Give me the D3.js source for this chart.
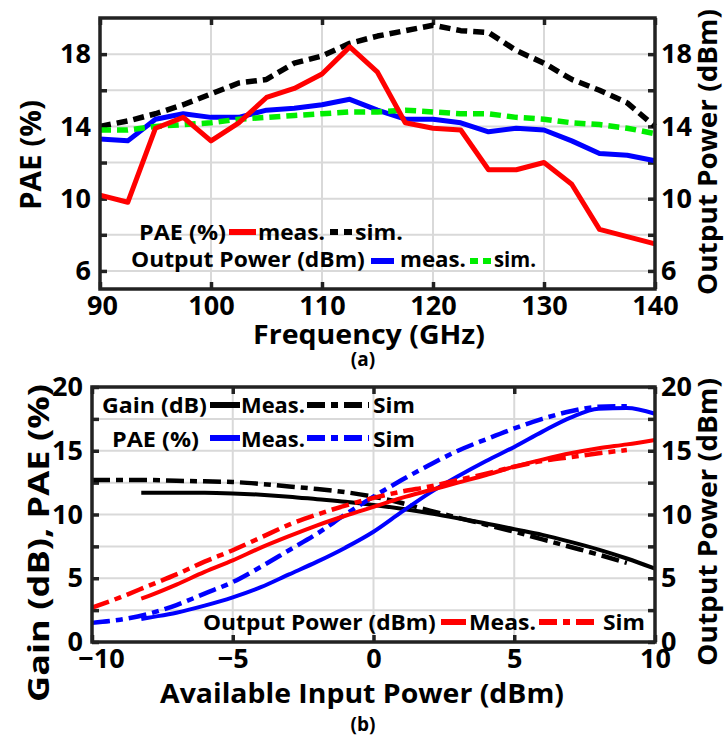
<!DOCTYPE html>
<html>
<head>
<meta charset="utf-8">
<script src="https://cdn.jsdelivr.net/npm/d3@7"></script>
<style>
  body { margin: 0; background: #fff; }
  svg text { font-family: "Open Sans", "Noto Sans", sans-serif; font-weight: 700; fill: #000; }
</style>
</head>
<body>
<svg id="chart" width="726" height="737"></svg>
<script>
// (a) PAE / output power vs frequency
const freqGHz   = [90, 92.5, 95, 97.5, 100, 102.5, 105, 107.5, 110, 112.5, 115, 117.5, 120, 122.5, 125, 127.5, 130, 132.5, 135, 137.5, 140];
const paeMeasA  = [10.2, 9.8, 13.9, 14.5, 13.2, 14.2, 15.6, 16.1, 16.9, 18.4, 17.0, 14.2, 13.9, 13.8, 11.6, 11.6, 12.0, 10.8, 8.3, 7.9, 7.5];
const paeSimA   = [14.0, 14.3, 14.7, 15.2, 15.8, 16.4, 16.6, 17.5, 17.9, 18.6, 19.0, 19.3, 19.6, 19.3, 19.2, 18.2, 17.5, 16.6, 16.0, 15.3, 14.0];
const poutMeasA = [13.3, 13.2, 14.4, 14.7, 14.5, 14.5, 14.9, 15.0, 15.2, 15.5, 14.9, 14.4, 14.4, 14.2, 13.7, 13.9, 13.8, 13.2, 12.5, 12.4, 12.1];
const poutSimA  = [13.8, 13.8, 14.0, 14.1, 14.2, 14.4, 14.5, 14.6, 14.7, 14.8, 14.8, 14.9, 14.8, 14.7, 14.7, 14.5, 14.4, 14.2, 14.1, 13.9, 13.6];
const freqTicks = [90, 100, 110, 120, 130, 140];
const paeTicksA = [6, 8, 10, 12, 14, 16, 18];
const paeLabelsA = [6, 10, 14, 18];

// (b) gain / PAE / output power vs available input power
const pinMeas   = [-8.25, -8, -7, -6, -5, -4, -3, -2, -1, 0, 1, 2, 3, 4, 5, 6, 7, 8, 9, 10];
const gainMeas  = [11.7, 11.7, 11.7, 11.7, 11.65, 11.55, 11.4, 11.2, 11.0, 10.75, 10.45, 10.1, 9.7, 9.3, 8.85, 8.4, 7.85, 7.25, 6.55, 5.75];
const paeMeasB  = [1.8, 1.9, 2.3, 2.85, 3.5, 4.3, 5.3, 6.3, 7.4, 8.65, 10.2, 11.7, 13.0, 14.2, 15.3, 16.5, 17.6, 18.3, 18.35, 17.9];
const poutMeasB = [3.4, 3.6, 4.5, 5.5, 6.4, 7.4, 8.3, 9.15, 9.9, 10.6, 11.3, 11.9, 12.5, 13.1, 13.75, 14.3, 14.8, 15.2, 15.5, 15.85];
const pinSim    = [-10, -9, -8, -7, -6, -5, -4, -3, -2, -1, 0, 1, 2, 3, 4, 5, 6, 7, 8, 9];
const gainSim   = [12.7, 12.7, 12.7, 12.65, 12.6, 12.55, 12.4, 12.2, 12.0, 11.75, 11.4, 10.9, 10.3, 9.75, 9.2, 8.65, 8.05, 7.45, 6.85, 6.2];
const paeSimB   = [1.5, 1.75, 2.2, 2.9, 3.8, 4.7, 5.9, 7.2, 8.5, 10.0, 11.4, 12.7, 13.9, 15.0, 15.9, 16.75, 17.5, 18.1, 18.45, 18.5];
const poutSimB  = [2.7, 3.5, 4.4, 5.3, 6.3, 7.2, 8.2, 9.2, 10.0, 10.7, 11.3, 11.8, 12.2, 12.7, 13.2, 13.75, 14.2, 14.5, 14.8, 15.05];
const pinTicks  = [-10, -5, 0, 5, 10];
const yTicksB   = [0, 2.5, 5, 7.5, 10, 12.5, 15, 17.5, 20];
const yLabelsB  = [0, 5, 10, 15, 20];

const RED = "#ff0000", BLUE = "#0000ff", GREEN = "#00ee00", BLACK = "#000";
const DASH_A = "11,6";
const DASHDOT = "18,6,7,6";

const svg = d3.select("#chart");

function drawFrame(x, y, xTicks, yTicks, yLabels, xGrid, yGrid, xShift) {
    let [x0, x1] = x.range();
    let [y0, y1] = y.range();
    let g = svg.append("g");

    // grid
    g.selectAll(".vg").data(xGrid).enter().append("line")
        .attr("x1", d => x(d)).attr("x2", d => x(d))
        .attr("y1", y0).attr("y2", y1)
        .attr("stroke", "#d9d9d9").attr("stroke-width", 2);
    g.selectAll(".hg").data(yGrid).enter().append("line")
        .attr("x1", x0).attr("x2", x1)
        .attr("y1", d => y(d)).attr("y2", d => y(d))
        .attr("stroke", "#d9d9d9").attr("stroke-width", 2);

    let fmtY = d => yLabels.includes(d) ? d : "";

    let axes = [
        d3.axisLeft(y).tickValues(yTicks).tickSize(-7).tickPadding(9).tickFormat(fmtY),
        d3.axisRight(y).tickValues(yTicks).tickSize(-7).tickPadding(6).tickFormat(fmtY),
        d3.axisBottom(x).tickValues(xTicks).tickSize(-7).tickPadding(7),
        d3.axisTop(x).tickValues(xTicks).tickSize(-7).tickFormat("")
    ];
    let trans = [`translate(${x0},0)`, `translate(${x1},0)`, `translate(0,${y0})`, `translate(0,${y1})`];
    axes.forEach((a, i) => {
        let ax = svg.append("g").attr("transform", trans[i]).call(a);
        ax.select(".domain").remove();
        ax.selectAll("line").attr("stroke", "#222").attr("stroke-width", 3.5);
        ax.selectAll("text").attr("font-size", 27).attr("font-family", null).attr("fill", "#000");
        if (i == 2) {
            ax.selectAll("text").attr("dx", (d, j) => j == 0 ? xShift : 0);
        }
    });
    return g;
}

function drawLine(x, y, xs, ys, color, width, dash, curve) {
    let line = d3.line()
        .x(d => x(d[0]))
        .y(d => y(d[1]))
        .curve(curve || d3.curveLinear);
    svg.append("path")
        .datum(xs.map((v, i) => [v, ys[i]]))
        .attr("d", line)
        .attr("fill", "none")
        .attr("stroke", color)
        .attr("stroke-width", width)
        .attr("stroke-dasharray", dash)
        .attr("stroke-linejoin", "round");
}

function border(x, y) {
    let [x0, x1] = x.range();
    let [y0, y1] = y.range();
    svg.append("rect")
        .attr("x", x0).attr("y", y1)
        .attr("width", x1 - x0).attr("height", y0 - y1)
        .attr("fill", "none").attr("stroke", "#222").attr("stroke-width", 3.5);
}

// text stretched (glyphs scaled along the line) to the width it has in the picture
function text(x, y, s, size, anchor, len, rot) {
    let t = svg.append("text")
        .attr("font-size", size)
        .attr("text-anchor", anchor || "start")
        .text(s);
    let sx = 1;
    if (len) sx = len / t.node().getComputedTextLength();
    let tr = `translate(${x},${y})` + (rot ? ` rotate(${rot})` : "") + ` scale(${sx},1)`;
    t.attr("transform", tr);
    if (rot) t.attr("dominant-baseline", "central");
    return t;
}

function swatch(xa, xb, yy, color, width, dash) {
    svg.append("line")
        .attr("x1", xa).attr("x2", xb).attr("y1", yy).attr("y2", yy)
        .attr("stroke", color).attr("stroke-width", width)
        .attr("stroke-dasharray", dash);
}

////////////////////////////////////////////////////////////////
// panel (a)
let xa = d3.scaleLinear().domain([90, 140]).range([100, 655]);
let ya = d3.scaleLinear().domain([5, 20]).range([289, 18]);

drawFrame(xa, ya, freqTicks, paeTicksA, paeLabelsA, [100, 110, 120, 130], paeTicksA, 2);

drawLine(xa, ya, freqGHz, paeSimA, BLACK, 5.5, DASH_A);
drawLine(xa, ya, freqGHz, poutMeasA, BLUE, 5);
drawLine(xa, ya, freqGHz, poutSimA, GREEN, 5.5, DASH_A);
drawLine(xa, ya, freqGHz, paeMeasA, RED, 5);
border(xa, ya);

// legend (a)
text(139, 240, "PAE (%)", 22, "start", 87);
swatch(229, 256, 232, RED, 6);
text(258, 240, "meas.", 22, "start", 67);
swatch(330, 352, 232, BLACK, 6, "8,6");
text(355, 240, "sim.", 22, "start", 48);
text(131, 267, "Output Power (dBm)", 22, "start", 234);
swatch(371, 394, 261, BLUE, 6);
text(400, 267, "meas.", 22, "start", 66);
swatch(470, 492, 261, GREEN, 6, "8,5");
text(494, 267, "sim.", 22, "start", 42);

text(30, 155, "PAE (%)", 28, "middle", 110, -90);
text(707, 152, "Output Power (dBm)", 27, "middle", 286, -90);
text(369, 344, "Frequency (GHz)", 27, "middle", 232);
text(363, 366, "(a)", 19, "middle");

////////////////////////////////////////////////////////////////
// panel (b)
let xb = d3.scaleLinear().domain([-10, 10]).range([92, 655]);
let yb = d3.scaleLinear().domain([0, 20]).range([642, 387]);

drawFrame(xb, yb, pinTicks, yTicksB, yLabelsB, [-5, 0, 5], yTicksB.slice(1, -1), 9);

let smooth = d3.curveMonotoneX;
drawLine(xb, yb, pinSim, gainSim, BLACK, 4.5, DASHDOT, smooth);
drawLine(xb, yb, pinMeas, gainMeas, BLACK, 4, null, smooth);
drawLine(xb, yb, pinSim, paeSimB, BLUE, 4.5, DASHDOT, smooth);
drawLine(xb, yb, pinMeas, paeMeasB, BLUE, 4, null, smooth);
drawLine(xb, yb, pinSim, poutSimB, RED, 4.5, DASHDOT, smooth);
drawLine(xb, yb, pinMeas, poutMeasB, RED, 4, null, smooth);
border(xb, yb);

// legend (b)
text(102, 413, "Gain (dB)", 22, "start", 105);
swatch(210, 240, 405, BLACK, 6);
text(241, 413, "Meas.", 22, "start", 64);
swatch(307, 369, 405, BLACK, 6, DASHDOT);
text(373, 413, "Sim", 22, "start", 42);
text(112, 447, "PAE (%)", 22, "start", 87);
swatch(210, 240, 438, BLUE, 6);
text(241, 447, "Meas.", 22, "start", 64);
swatch(307, 369, 438, BLUE, 6, DASHDOT);
text(373, 447, "Sim", 22, "start", 42);
text(203, 630, "Output Power (dBm)", 22, "start", 233);
swatch(441, 466, 622, RED, 6);
text(469, 630, "Meas.", 22, "start", 67);
swatch(539, 598, 622, RED, 6, DASHDOT);
text(603, 630, "Sim", 22, "start", 42);

text(38, 543, "Gain (dB), PAE (%)", 28, "middle", 318, -90);
text(707, 522, "Output Power (dBm)", 27, "middle", 288, -90);
text(362, 703, "Available Input Power (dBm)", 27, "middle", 404);
text(363, 731, "(b)", 19, "middle");
</script>
</body>
</html>
